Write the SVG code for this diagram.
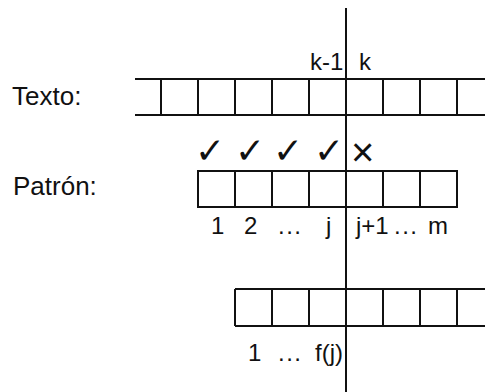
<svg xmlns="http://www.w3.org/2000/svg" width="485" height="392" viewBox="0 0 485 392">
<style>
.ln{stroke:#111;stroke-width:2;fill:none}
.t{font-family:"Liberation Sans",Arial,sans-serif;font-size:24px;fill:#111}
.L{font-size:26px}
.d{letter-spacing:1.5px}
.s{font-family:"DejaVu Sans",sans-serif;font-size:36px;font-weight:bold;fill:#111}
.x{font-family:"Liberation Sans",Arial,sans-serif;font-size:40px;fill:#111}
</style>
<rect width="485" height="392" fill="#fff"/>
<g id="texto">
<text class="t L" x="12" y="105">Texto:</text>
<path class="ln" d="M135 79H485M135 115H485M161 79V115M198 79V115M235 79V115M272 79V115M309 79V115M383 79V115M420 79V115M457 79V115"/>
<text class="t" x="310" y="70">k-1</text>
<text class="t" x="359" y="70">k</text>
</g>
<g id="patron">
<text class="t L" x="13" y="195">Patrón:</text>
<rect class="ln" x="198" y="171" width="259" height="36"/>
<path class="ln" d="M235 171V207M272 171V207M309 171V207M383 171V207M420 171V207"/>
<text class="s" x="195" y="163">✓</text>
<text class="s" x="235" y="163">✓</text>
<text class="s" x="273" y="163">✓</text>
<text class="s" x="314" y="163">✓</text>
<text class="x" x="351" y="166">×</text>
<text class="t" x="211" y="234">1</text>
<text class="t" x="244" y="234">2</text>
<text class="t d" x="278" y="234">...</text>
<text class="t" x="326" y="234">j</text>
<text class="t" x="356" y="234">j+1</text>
<text class="t d" x="394" y="234">...</text>
<text class="t" x="428" y="234">m</text>
</g>
<g id="fallo">
<path class="ln" d="M235 289H485M235 326H485M235 289V326M272 289V326M309 289V326M383 289V326M420 289V326M457 289V326"/>
<text class="t" x="248" y="361">1</text>
<text class="t d" x="278" y="361">...</text>
<text class="t" x="315" y="361">f(j)</text>
</g>
<g id="connectors">
<path class="ln" d="M346 8V392"/>
</g>
</svg>
